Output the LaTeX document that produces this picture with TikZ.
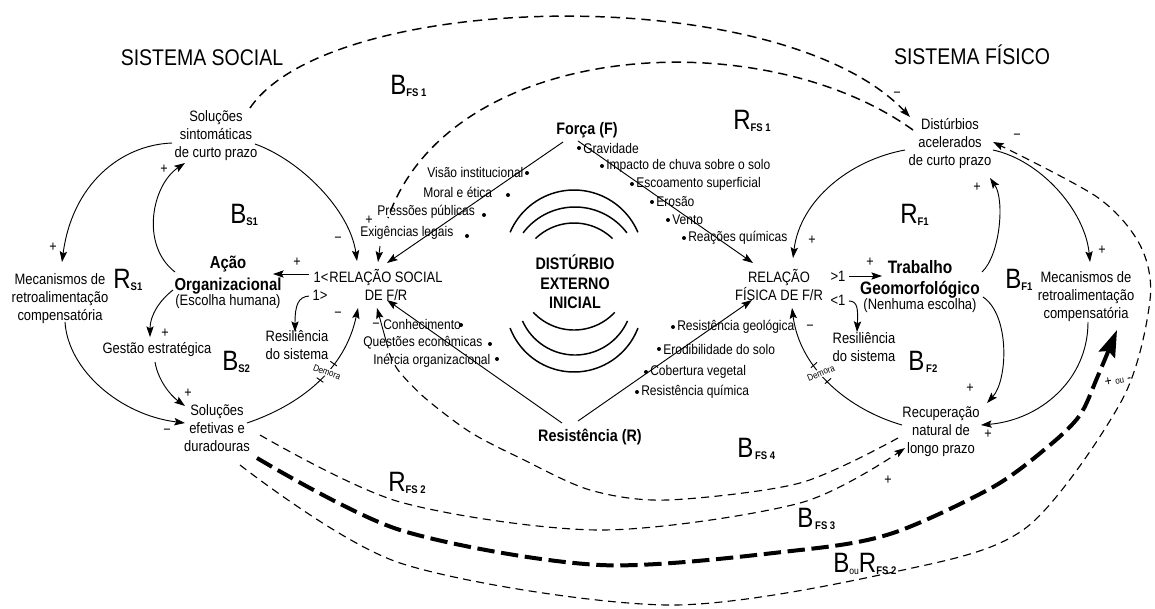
\documentclass[tikz,border=0pt]{standalone}
\usepackage{fontspec}
\setmainfont{Liberation Sans}[FakeStretch=0.86]
\usetikzlibrary{arrows.meta}
\newcommand{\lbl}[2]{{\fontsize{21}{21}\selectfont #1}\raisebox{-1.8pt}{\fontsize{8.3}{9}\selectfont\bfseries #2}}
\newcommand{\bh}[1]{{\bfseries\fontsize{13}{15}\selectfont #1}}
\begin{document}
\begin{tikzpicture}[x=0.75pt,y=-0.75pt,
  txt/.style={align=center,font=\fontsize{11.3}{13.5}\selectfont,inner sep=1pt},
  blt/.style={anchor=west,font=\fontsize{10.5}{12}\selectfont,inner sep=0pt},
  hd/.style={align=center,font=\fontsize{12.5}{14.6}\selectfont\bfseries,inner sep=1pt},
  ttl/.style={font=\fontsize{17}{20}\selectfont,inner sep=0pt},
  lp/.style={anchor=base west,inner sep=0pt},
  sg/.style={font=\fontsize{11}{12}\selectfont,inner sep=0pt},
  tip/.style={-{Stealth[length=8pt,width=5.5pt,inset=1.5pt]}},
  con/.style={line width=0.7pt,tip},
  dsh/.style={line width=0.85pt,dash pattern=on 6pt off 4pt},
  dshb/.style={line width=1.1pt,dash pattern=on 7pt off 4.5pt},
  thk/.style={line width=3pt,dash pattern=on 13pt off 5pt},
  arcl/.style={line width=1.1pt},
  dem/.style={font=\fontsize{7}{8}\selectfont,fill=white,inner sep=0.6pt},
  bar/.style={line width=0.7pt},
]
\useasboundingbox (0,0) rectangle (1155,608);

% ---------- titles ----------
\node[ttl] (tsoc) at (202,58) {SISTEMA SOCIAL};
\node[ttl] (tfis) at (972,55) {SISTEMA FÍSICO};

% ---------- main nodes ----------
\node[txt] (ss) at (216,136) {Soluções\\sintomáticas\\de curto prazo};
\node[txt] (mecl) at (60,299) {Mecanismos de\\retroalimentação\\compensatória};
\node[txt] (acao) at (228,282) {\bh{Ação}\\[3pt]\bh{Organizacional}\\[-2pt](Escolha humana)};
\node[txt] (gest) at (157,350) {Gestão estratégica};
\node[txt] (sef) at (217,428) {Soluções\\efetivas e\\duradouras};
\node[txt] (rs) at (386,285) {RELAÇÃO SOCIAL\\DE F/R};
\node[txt] (lt) at (321,277) {1<};
\node[txt] (gt) at (320,295) {1>};
\node[txt] (resl) at (297,345) {Resiliência\\do sistema};
\node[hd] (dist) at (575,282) {DISTÚRBIO\\EXTERNO\\INICIAL};
\node[hd] (forca) at (587,130) {Força (F)};
\node[hd] (resist) at (590,437) {Resistência (R)};
\node[txt] (rf) at (779,285) {RELAÇÃO\\FÍSICA DE F/R};
\node[txt] (gtr) at (838,276) {>1};
\node[txt] (ltr) at (838,300) {<1};
\node[txt] (trab) at (920,287) {{\bfseries\fontsize{13.5}{15}\selectfont Trabalho}\\[2pt]{\bfseries\fontsize{13.5}{15}\selectfont Geomorfológico}\\[-2pt](Nenhuma escolha)};
\node[txt] (resr) at (864,347) {Resiliência\\do sistema};
\node[txt] (dac) at (950,144) {Distúrbios\\acelerados\\de curto prazo};
\node[txt] (mecr) at (1086,297) {Mecanismos de\\retroalimentação\\compensatória};
\node[txt] (rec) at (941,432) {Recuperação\\natural de\\longo prazo};

% ---------- bullet lists ----------
\node[blt] (v1) at (427,172) {Visão institucional};
\node[blt] (v2) at (423,192) {Moral e ética};
\node[blt] (v3) at (377,212) {Pressões públicas};
\node[blt] (v4) at (360,233) {Exigências legais};
\node[blt] (v5) at (383,324) {Conhecimento};
\node[blt] (v6) at (363,343) {Questões econômicas};
\node[blt] (v7) at (373,361) {Inércia organizacional};
\foreach \p in {(527,173),(508,195),(484,215),(467,236),(461,325),(490,344),(497,359)}
  \fill \p circle[radius=1.5pt];

\node[blt] (f1) at (583,148) {Gravidade};
\node[blt] (f2) at (606,166) {Impacto de chuva sobre o solo};
\node[blt] (f3) at (636,184) {Escoamento superficial};
\node[blt] (f4) at (656,202) {Erosão};
\node[blt] (f5) at (672,220) {Vento};
\node[blt] (f6) at (688,238) {Reações químicas};
\node[blt] (r1) at (677,327) {Resistência geológica};
\node[blt] (r2) at (663,349) {Erodibilidade do solo};
\node[blt] (r3) at (650,372) {Cobertura vegetal};
\node[blt] (r4) at (641,392) {Resistência química};
\foreach \p in {(579,148),(602,166),(632,184),(652,202),(668,220),(684,238),(673,327),(659,349),(646,372),(637,392)}
  \fill \p circle[radius=1.5pt];

% ---------- concentric arcs ----------
\draw[arcl] plot[domain=23:157,samples=40] ({574+69.4*cos(\x)},{259.4-69.4*sin(\x)});
\draw[arcl] plot[domain=37:143,samples=40] ({575+65*cos(\x)},{272-65*sin(\x)});
\draw[arcl] plot[domain=46:134,samples=40] ({574+55.5*cos(\x)},{278.5-55.5*sin(\x)});
\draw[arcl] plot[domain=-159:-21,samples=40] ({574+68.5*cos(\x)},{303.5-68.5*sin(\x)});
\draw[arcl] plot[domain=-156:-24,samples=40] ({575+57.5*cos(\x)},{297.5-57.5*sin(\x)});
\draw[arcl] plot[domain=-137:-43,samples=40] ({574+55.7*cos(\x)},{274.3-55.7*sin(\x)});

% ---------- force / resistance lines ----------
\draw[con] (563,142) -- (387,263);
\draw[con] (578,141) -- (753,263);
\draw[con] (562,423) -- (387,300);
\draw[con] (578,421) -- (752,300);

% ---------- social loops ----------
\draw[con] (172,143) .. controls (120,145) and (72,185) .. (62,262);
\draw[con] (65,322) .. controls (68,370) and (120,415) .. (185,423);
\draw[con] (247,423) .. controls (300,405) and (345,370) .. (358,308);
\draw[con] (255,144) .. controls (300,160) and (350,210) .. (357,261);
\draw[con] (175,272) .. controls (140,245) and (152,185) .. (185,163);
\draw[con] (173,290) .. controls (160,300) and (150,315) .. (150,337);
\draw[con] (155,362) .. controls (158,380) and (170,395) .. (185,406);
\draw[con] (309,274) -- (273,274);
\draw[con] (309,296) .. controls (298,297) and (295,305) .. (295,332);
\node[dem,rotate=-20] (deml) at (327,372) {Demora};
\draw[bar] (330.3,361.3) -- (336.9,365.9);
\draw[bar] (316.7,377.7) -- (323.3,382.3);

% ---------- physical loops ----------
\draw[con] (905,150) .. controls (850,160) and (800,200) .. (793,258);
\draw[con] (849,276) -- (882,276);
\draw[con] (982,272) .. controls (1000,255) and (1005,200) .. (990,178);
\draw[con] (849,301) .. controls (858,301) and (858,310) .. (857,332);
\draw[con] (902,425) .. controls (850,410) and (800,370) .. (792,308);
\draw[con] (983,297) .. controls (1010,315) and (1008,380) .. (987,403);
\draw[con] (993,150) .. controls (1040,160) and (1085,210) .. (1090,262);
\draw[con] (1088,322) .. controls (1088,380) and (1040,420) .. (981,425);
\node[dem,rotate=22] (demr) at (821,373) {Demora};
\draw[bar] (811,367.6) -- (817,362.4);
\draw[bar] (825,383.6) -- (831,378.4);

% ---------- dashed cross loops ----------
\draw[dshb,tip] (250,108) .. controls (330,-10) and (780,-20) .. (910,117);
\draw[dshb] (913,130) .. controls (760,20) and (450,40) .. (388,218);
\draw[con] (380,246) -- (378,262);
\draw[dsh,tip] plot[smooth] coordinates {(260,435) (400,502) (600,530) (800,503) (905,448)};
\draw[dsh] plot[smooth] coordinates {(898,438) (800,483) (667,500) (590,490) (520,458) (470,432) (425,398) (398,370) (388,350)};
\draw[con] (388,348) -- (377,308);
\draw[thk,-{Stealth[length=20pt,width=13pt,inset=3pt]}] plot[smooth] coordinates {(257,458) (400,530) (600,565) (800,550) (893,533) (993,487) (1050,445) (1080,415) (1097,378) (1117,330)};
\draw[dsh,tip] plot[smooth] coordinates {(240,465) (400,563) (667,605) (903,570) (1027,527) (1122,400) (1150,300) (1140,245) (1097,197) (993,142)};

% ---------- polarity signs ----------
\node[sg] (p1) at (164,169) {+};
\node[sg] (p2) at (53,247) {+};
\node[sg] (p3) at (167,432) {−};
\node[sg] (p4) at (165,333) {+};
\node[sg] (p5) at (188,393) {+};
\node[sg] (p6) at (297,262) {+};
\node[sg] (p7) at (338,240) {−};
\node[sg] (p8) at (338,315) {−};
\node[sg] (p9) at (369,220) {+};
\node[sg] (p10) at (376,326) {−};
\node[sg] (p11) at (897,95) {−};
\node[sg] (p12) at (1017,137) {−};
\node[sg] (p13) at (977,187) {+};
\node[sg] (p14) at (812,240) {+};
\node[sg] (p15) at (870,262) {+};
\node[sg] (p16) at (810,328) {−};
\node[sg] (p17) at (1102,250) {+};
\node[sg] (p18) at (970,388) {+};
\node[sg] (p19) at (988,434) {+};
\node[sg] (p20) at (888,480) {+};
\node[inner sep=0pt,rotate=10] (pou) at (1118,380) {\fontsize{10.5}{11}\selectfont + {\fontsize{7}{8}\selectfont ou} -};

% ---------- loop labels ----------
\node[lp] (lbfs1) at (390,94) {\lbl{B}{FS 1}};
\node[lp] (lrfs1) at (733,129) {\lbl{R}{FS 1}};
\node[lp] (lbs1) at (230,223) {\lbl{B}{S1}};
\node[lp] (lrs1) at (113,288) {\lbl{R}{S1}};
\node[lp] (lbs2) at (222,370) {\lbl{B}{S2}};
\node[lp] (lrf1) at (900,223) {\lbl{R}{F1}};
\node[lp] (lbf1) at (1005,288) {\lbl{B}{F1}};
\node[lp] (lbf2) at (908,370) {\lbl{B}{\,F2}};
\node[lp] (lbfs4) at (737,457) {\lbl{B}{\,FS 4}};
\node[lp] (lrfs2) at (388,491) {\lbl{R}{FS 2}};
\node[lp] (lbfs3) at (797,527) {\lbl{B}{\,FS 3}};
\node[lp] (lbr) at (833,572) {{\fontsize{21}{21}\selectfont B}\raisebox{-1.8pt}{\fontsize{7.5}{8}\selectfont ou}{\fontsize{21}{21}\selectfont R}\raisebox{-1.8pt}{\fontsize{8.3}{9}\selectfont\bfseries FS 2}};
\end{tikzpicture}
\end{document}
